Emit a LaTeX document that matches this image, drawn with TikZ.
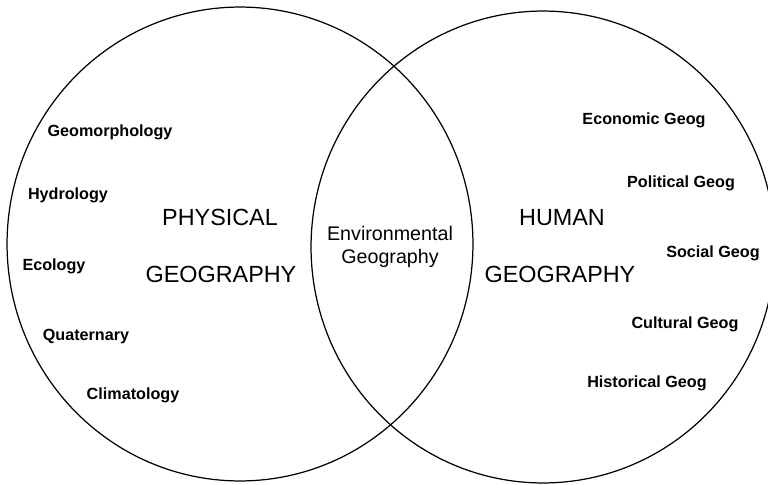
\documentclass[tikz,border=0pt]{standalone}
\usepackage{fontspec}
\setmainfont{Liberation Sans}
\begin{document}
\begin{tikzpicture}[x=0.02cm, y=-0.02cm,
    field/.style={anchor=base, font=\bfseries\fontsize{9.2}{11}\selectfont},
    branch/.style={anchor=base, font=\fontsize{13.3}{16}\selectfont},
    overlap/.style={align=center, font=\fontsize{11.2}{13}\selectfont},
    ring/.style={line width=0.7pt}]
    % -------- 畫布 --------
    \useasboundingbox (0,0) rectangle (768,484);
    \clip (0,0) rectangle (768,484);

    % ======== 兩個圓 ========
    \draw[ring] (240,244) ellipse [x radius=4.66cm, y radius=4.74cm];
    \draw[ring] (543,247) ellipse [x radius=4.64cm, y radius=4.72cm];

    % ======== 左: physical ========
    \node[branch] (physical) at (220,225) {PHYSICAL};
    \node[branch] (physgeo) at (221,282) {GEOGRAPHY};

    \node[field] (geomorph) at (110,136) {Geomorphology};
    \node[field] (hydro) at (68,199) {Hydrology};
    \node[field] (ecology) at (54,270) {Ecology};
    \node[field] (quaternary) at (86,340) {Quaternary};
    \node[field] (climate) at (133,399) {Climatology};

    % ======== 中間 ========
    \node[overlap] (environ) at (390,247) {Environmental\\Geography};

    % ======== 右: human ========
    \node[branch] (human) at (562,225) {HUMAN};
    \node[branch] (humgeo) at (560,282) {GEOGRAPHY};

    \node[field] (economic) at (644,124) {Economic Geog};
    \node[field] (political) at (681,187) {Political Geog};
    \node[field] (social) at (713,257) {Social Geog};
    \node[field] (cultural) at (685,328) {Cultural Geog};
    \node[field] (historical) at (647,387) {Historical Geog};
\end{tikzpicture}
\end{document}
